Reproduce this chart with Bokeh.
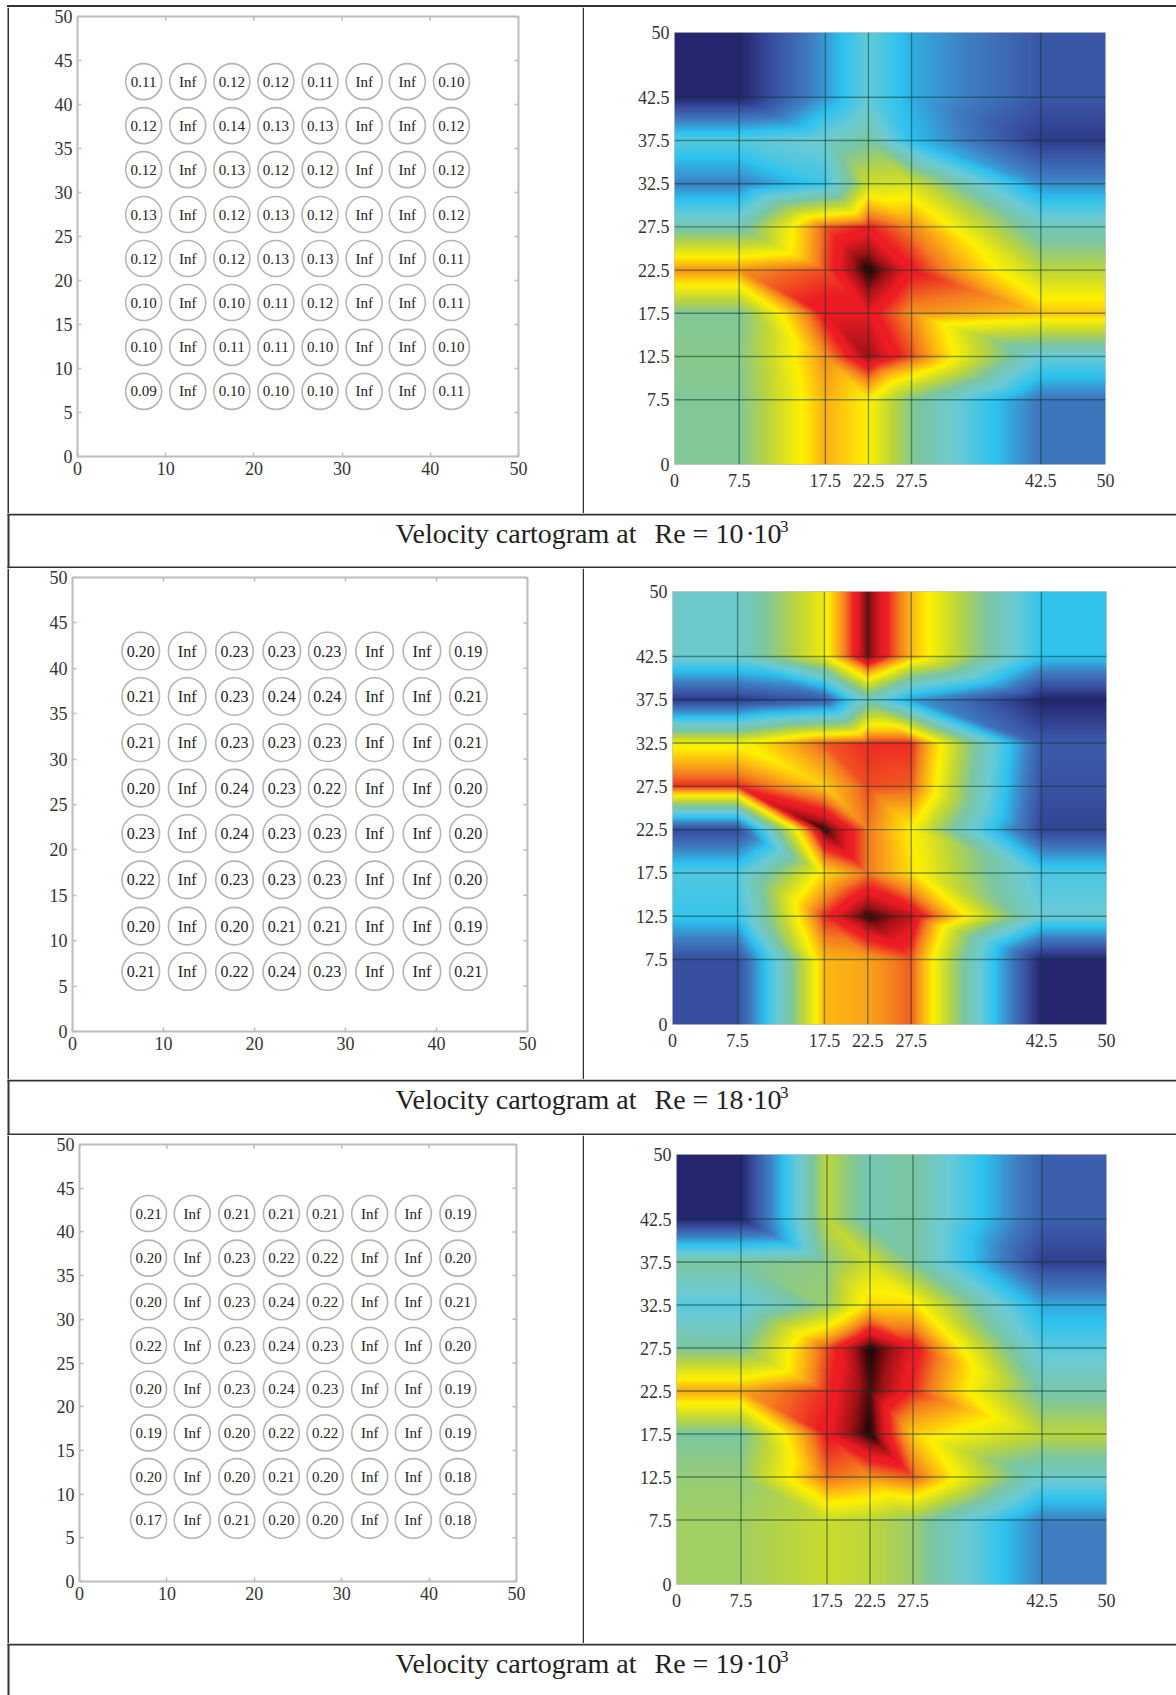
import numpy as np
from bokeh.plotting import figure
from bokeh.layouts import column, row
from bokeh.models import BoxAnnotation, FixedTicker, LinearAxis, LinearColorMapper, Range1d, Spacer
from bokeh.core.properties import value
from bokeh.embed import file_html
from bokeh.resources import INLINE

# ---------- data ----------
# probe positions as they read against each panel's axes
probe_x_re10 = [7.5, 12.5, 17.5, 22.5, 27.5, 32.5, 37.4, 42.4]
probe_y_re10 = [42.6, 37.6, 32.6, 27.5, 22.5, 17.5, 12.4, 7.4]
probe_x_re18 = [7.5, 12.6, 17.8, 23.0, 28.0, 33.2, 38.4, 43.5]
probe_y_re18 = [41.9, 36.9, 31.8, 26.8, 21.8, 16.7, 11.6, 6.6]
probe_x_re19 = [7.9, 12.9, 18.0, 23.1, 28.1, 33.2, 38.2, 43.3]
probe_y_re19 = [42.1, 37.0, 32.0, 27.0, 22.0, 17.0, 12.0, 7.0]

table_re10 = [
    "0.11 Inf 0.12 0.12 0.11 Inf Inf 0.10",
    "0.12 Inf 0.14 0.13 0.13 Inf Inf 0.12",
    "0.12 Inf 0.13 0.12 0.12 Inf Inf 0.12",
    "0.13 Inf 0.12 0.13 0.12 Inf Inf 0.12",
    "0.12 Inf 0.12 0.13 0.13 Inf Inf 0.11",
    "0.10 Inf 0.10 0.11 0.12 Inf Inf 0.11",
    "0.10 Inf 0.11 0.11 0.10 Inf Inf 0.10",
    "0.09 Inf 0.10 0.10 0.10 Inf Inf 0.11",
]
table_re18 = [
    "0.20 Inf 0.23 0.23 0.23 Inf Inf 0.19",
    "0.21 Inf 0.23 0.24 0.24 Inf Inf 0.21",
    "0.21 Inf 0.23 0.23 0.23 Inf Inf 0.21",
    "0.20 Inf 0.24 0.23 0.22 Inf Inf 0.20",
    "0.23 Inf 0.24 0.23 0.23 Inf Inf 0.20",
    "0.22 Inf 0.23 0.23 0.23 Inf Inf 0.20",
    "0.20 Inf 0.20 0.21 0.21 Inf Inf 0.19",
    "0.21 Inf 0.22 0.24 0.23 Inf Inf 0.21",
]
table_re19 = [
    "0.21 Inf 0.21 0.21 0.21 Inf Inf 0.19",
    "0.20 Inf 0.23 0.22 0.22 Inf Inf 0.20",
    "0.20 Inf 0.23 0.24 0.22 Inf Inf 0.21",
    "0.22 Inf 0.23 0.24 0.23 Inf Inf 0.20",
    "0.20 Inf 0.23 0.24 0.23 Inf Inf 0.19",
    "0.19 Inf 0.20 0.22 0.22 Inf Inf 0.19",
    "0.20 Inf 0.20 0.21 0.20 Inf Inf 0.18",
    "0.17 Inf 0.21 0.20 0.20 Inf Inf 0.18",
]

node_x = [7.5, 17.5, 22.5, 27.5, 42.5]
node_y = [42.5, 37.5, 32.5, 27.5, 22.5, 17.5, 12.5, 7.5]
map_re10 = [
    [.00, .24, .39, .27, .11],
    [.37, .42, .50, .30, .05],
    [.20, .33, .63, .64, .22],
    [.47, .84, .88, .81, .45],
    [.80, .85, 1.0, .89, .60],
    [.51, .90, .90, .80, .75],
    [.52, .80, .95, .85, .40],
    [.51, .77, .70, .52, .18],
]
map_re18 = [
    [.42, .68, .97, .76, .31],
    [.05, .12, .45, .25, .00],
    [.68, .84, .87, .87, .12],
    [.87, .74, .85, .84, .10],
    [.08, .99, .82, .70, .07],
    [.36, .72, .82, .72, .35],
    [.32, .87, .99, .93, .40],
    [.09, .76, .78, .84, .00],
]
map_re19 = [
    [.00, .60, .46, .50, .13],
    [.50, .53, .63, .50, .06],
    [.37, .55, .73, .72, .26],
    [.50, .85, 1.0, .90, .37],
    [.78, .87, .98, .87, .48],
    [.50, .89, 1.0, .74, .60],
    [.54, .83, .80, .84, .42],
    [.56, .62, .60, .55, .20],
]
map_ticks = [0, 7.5, 12.5, 17.5, 22.5, 27.5, 32.5, 37.5, 42.5, 50]
map_xticks = [0, 7.5, 17.5, 22.5, 27.5, 42.5, 50]
probe_xticks = [0, 10, 20, 30, 40, 50]
probe_yticks = [0, 5, 10, 15, 20, 25, 30, 35, 40, 45, 50]

caption_lead = "Velocity cartogram at"

# palette stops
stop_pos = [0.0, .10, .20, .30, .40, .50, .60, .70, .76, .82, .88, .90, .95, 1.0]
stop_col = ["#26256f", "#3a53a4", "#3f7fc2", "#2dc3f0", "#6bcbd5", "#7cc6a0", "#bdd63a",
            "#fff200", "#fdb913", "#f47b20", "#ed1c24", "#ed1c24", "#a01216", "#1a0303"]

FONT = value("Liberation Serif")
INK = "#222222"
RULE = "#333333"
FRAME = "#bdbdbd"


def make_palette(n=512):
    rgb = np.array([[int(c[i:i + 2], 16) for i in (1, 3, 5)] for c in stop_col], float)
    t = np.linspace(0, 1, n)
    chans = [np.interp(t, stop_pos, rgb[:, k]) for k in range(3)]
    return ["#%02x%02x%02x" % (int(r), int(g), int(b)) for r, g, b in zip(*chans)]


PALETTE = make_palette()


def strip(w, h, x0=0, top=True, left=True, bottom=False):
    # a plot whose frame is the whole cell: holds the table's ruled lines
    p = figure(width=w, height=h, x_range=Range1d(0, w), y_range=Range1d(h, 0), output_backend="svg",
               toolbar_location=None, min_border=0, x_axis_type=None, y_axis_type=None)
    p.grid.visible = False
    p.outline_line_color = None
    common = dict(left_units="canvas", right_units="canvas", top_units="canvas", bottom_units="canvas",
                  fill_color=RULE, fill_alpha=1, line_color=None)
    if top:
        p.add_layout(BoxAnnotation(left=x0, right=w, top=0, bottom=2, **common))
    if bottom:
        p.add_layout(BoxAnnotation(left=x0, right=w, top=h - 2, bottom=h, **common))
    if left:
        p.add_layout(BoxAnnotation(left=x0, right=x0 + 2, top=0, bottom=h, **common))
    return p


def probe_panel(table, px, py, w, h, borders, size, font_px):
    l, r, t, b = borders
    p = figure(width=w, height=h, x_range=Range1d(0, 50), y_range=Range1d(0, 50),
               output_backend="svg", toolbar_location=None, min_border_left=l, min_border_right=r,
               min_border_top=t, min_border_bottom=b, x_axis_type=None, y_axis_type=None)
    p.grid.visible = False
    p.outline_line_color = FRAME
    p.outline_line_width = 2
    for side, ticks in (("below", probe_xticks), ("left", probe_yticks)):
        ax = LinearAxis(ticker=FixedTicker(ticks=ticks), axis_line_color=None, major_tick_out=0,
                        major_tick_in=4, major_tick_line_color=FRAME, major_tick_line_width=1.5,
                        minor_tick_line_color=None, major_label_text_font="Liberation Serif",
                        major_label_text_font_size="18px", major_label_text_color="#333333",
                        major_label_standoff=5)
        p.add_layout(ax, side)
    # inward ticks along the top and right of the frame
    n, m = len(probe_xticks), len(probe_yticks)
    p.segment(x0=probe_xticks, x1=probe_xticks, y0=[50] * n, y1=[49.55] * n, line_color=FRAME, line_width=1.5)
    p.segment(x0=[50] * m, x1=[49.55] * m, y0=probe_yticks, y1=probe_yticks, line_color=FRAME, line_width=1.5)
    xs, ys, texts = [], [], []
    for yy, line in zip(py, table):
        for xx, s in zip(px, line.split()):
            xs.append(xx); ys.append(yy); texts.append(s)
    p.scatter(xs, ys, size=size, marker="circle", fill_color=None, line_color="#b4b4b4", line_width=1.6)
    p.text(xs, ys, text=texts, text_font=FONT, text_font_size=font_px, text_color=INK,
           text_align="center", text_baseline="middle")
    return p


def interp_levels(levels, n=900):
    # the border strips repeat the outermost measured nodes
    z = np.pad(np.array(levels, float)[::-1], 1, mode="edge")
    gx = np.array([0] + node_x + [50], float)
    gy = np.array([0] + node_y[::-1] + [50], float)
    px = (np.arange(n) + .5) * 50 / n
    X, Y = np.meshgrid(px, px)
    i = np.clip(np.searchsorted(gx, X) - 1, 0, len(gx) - 2)
    j = np.clip(np.searchsorted(gy, Y) - 1, 0, len(gy) - 2)
    u = (X - gx[i]) / (gx[i + 1] - gx[i])
    v = (Y - gy[j]) / (gy[j + 1] - gy[j])
    z00, z10, z01, z11 = z[j, i], z[j, i + 1], z[j + 1, i], z[j + 1, i + 1]
    low = z00 + u * (z10 - z00) + v * (z01 - z00)
    high = z11 + (1 - u) * (z01 - z11) + (1 - v) * (z10 - z11)
    return np.where(u + v <= 1, low, high)


def map_panel(levels, w, h, borders):
    l, r, t, b = borders
    p = figure(width=w, height=h, x_range=Range1d(0, 50), y_range=Range1d(0, 50),
               output_backend="svg", toolbar_location=None, min_border_left=l, min_border_right=r,
               min_border_top=t, min_border_bottom=b, x_axis_type=None, y_axis_type=None)
    mapper = LinearColorMapper(palette=PALETTE, low=0, high=1)
    p.image(image=[interp_levels(levels)], x=0, y=0, dw=50, dh=50, color_mapper=mapper)
    p.outline_line_color = "#c8c8c8"
    p.outline_line_width = 1
    p.grid.visible = False
    for side, ticks, off in (("below", map_xticks, 9), ("left", map_ticks, 5)):
        over = {t_: ("%g" % t_) for t_ in ticks}
        ax = LinearAxis(ticker=FixedTicker(ticks=ticks), major_label_overrides=over, axis_line_color=None,
                        major_tick_line_color=None, minor_tick_line_color=None, major_tick_in=0,
                        major_tick_out=0, major_label_text_font="Liberation Serif",
                        major_label_text_font_size="18px", major_label_text_color="#333333",
                        major_label_standoff=off)
        p.add_layout(ax, side)
    # interior grid lines drawn over the image
    inner_x, inner_y = map_xticks[1:-1], map_ticks[1:-1]
    p.segment(x0=inner_x, x1=inner_x, y0=[0] * len(inner_x), y1=[50] * len(inner_x),
              line_color="#003c30", line_alpha=.5, line_width=1.4)
    p.segment(x0=[0] * len(inner_y), x1=[50] * len(inner_y), y0=inner_y, y1=inner_y,
              line_color="#003c30", line_alpha=.5, line_width=1.4)
    return p


def caption_cell(num, w, h, bottom=True):
    p = strip(w, h, x0=7, bottom=bottom)
    base = 20
    xs = [395, 654, 692, 715, 745, 753]
    strs = [caption_lead, "Re", "=", num, "\u00b7", "10"]
    p.text(xs, [base] * len(xs), text=strs, text_font=FONT, text_font_size="28px", text_color=INK,
           text_align="left", text_baseline="alphabetic")
    p.text([779.5], [12.5], text=["3"], text_font=FONT, text_font_size="17px", text_color=INK,
           text_align="left", text_baseline="alphabetic")
    return p


def table_row(left, right, h):
    # left rule strip, probe panel, divider strip, map panel; single-child columns keep the
    # sibling plots from sharing their frame borders
    return row(column(strip(9, h, x0=7, top=False), spacing=0), column(left, spacing=0),
               column(strip(2, h, top=False), spacing=0), column(right, spacing=0), spacing=0)


LW, RW = 573, 592
W = 1176
page = column(
    Spacer(width=W - 7, height=2, margin=(5, 0, 0, 7), styles={"background-color": RULE}),
    table_row(probe_panel(table_re10, probe_x_re10, probe_y_re10, LW, 506, (68, 64, 9, 57), 36, "15px"),
              map_panel(map_re10, RW, 506, (90, 71, 25, 49)), 506),
    caption_cell("10", W, 55),
    table_row(probe_panel(table_re18, probe_x_re18, probe_y_re18, LW, 511, (63, 55, 9, 48), 37.5, "16px"),
              map_panel(map_re18, RW, 511, (88, 70, 23, 55)), 511),
    caption_cell("18", W, 56),
    table_row(probe_panel(table_re19, probe_x_re19, probe_y_re19, LW, 508, (70, 66, 9, 62), 36, "15px"),
              map_panel(map_re19, RW, 508, (92, 70, 19, 59)), 508),
    caption_cell("19", W, 52, bottom=False),
    spacing=0,
)

open("out.html", "w").write(file_html(page, INLINE))
